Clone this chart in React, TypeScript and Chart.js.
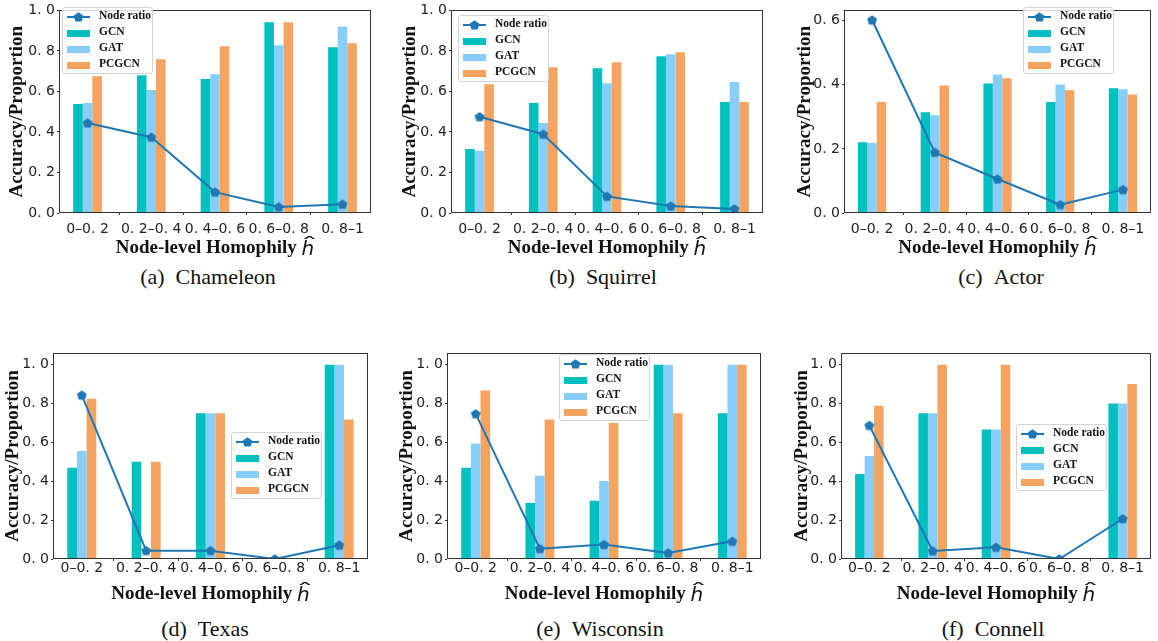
import React, { useEffect, useRef } from 'react';
import { Chart, registerables } from 'chart.js';

Chart.register(...registerables);

// ---------- data ----------
const CATEGORIES = ['0–0. 2', '0. 2–0. 4', '0. 4–0. 6', '0. 6–0. 8', '0. 8–1'];
const SERIES = ['Node ratio', 'GCN', 'GAT', 'PCGCN'];
const Y_TICKS_FULL = [0, 0.2, 0.4, 0.6, 0.8, 1.0];
const Y_TICKS_ACTOR = [0, 0.2, 0.4, 0.6];
const Y_TITLE = 'Accuracy/Proportion';
const X_TITLE = 'Node-level Homophily';

const CHAMELEON_RATIO = [0.444, 0.374, 0.103, 0.030, 0.043];
const CHAMELEON_GCN = [0.538, 0.680, 0.661, 0.941, 0.818];
const CHAMELEON_GAT = [0.543, 0.607, 0.685, 0.828, 0.921];
const CHAMELEON_PCGCN = [0.675, 0.759, 0.823, 0.941, 0.838];

const SQUIRREL_RATIO = [0.475, 0.389, 0.082, 0.034, 0.020];
const SQUIRREL_GCN = [0.316, 0.543, 0.715, 0.774, 0.548];
const SQUIRREL_GAT = [0.307, 0.444, 0.641, 0.784, 0.646];
const SQUIRREL_PCGCN = [0.636, 0.720, 0.744, 0.793, 0.548];

const ACTOR_RATIO = [0.602, 0.189, 0.106, 0.026, 0.073];
const ACTOR_GCN = [0.221, 0.314, 0.404, 0.346, 0.389];
const ACTOR_GAT = [0.218, 0.305, 0.432, 0.401, 0.386];
const ACTOR_PCGCN = [0.346, 0.398, 0.420, 0.383, 0.370];

const TEXAS_RATIO = [0.843, 0.043, 0.043, 0.0, 0.071];
const TEXAS_GCN = [0.470, 0.5, 0.75, 0, 1.0];
const TEXAS_GAT = [0.556, 0, 0.75, 0, 1.0];
const TEXAS_PCGCN = [0.824, 0.5, 0.75, 0, 0.718];

const WISCONSIN_RATIO = [0.747, 0.053, 0.074, 0.031, 0.091];
const WISCONSIN_GCN = [0.470, 0.289, 0.300, 1.0, 0.75];
const WISCONSIN_GAT = [0.594, 0.429, 0.401, 1.0, 1.0];
const WISCONSIN_PCGCN = [0.867, 0.718, 0.700, 0.75, 1.0];

const CONNELL_RATIO = [0.687, 0.041, 0.060, 0.0, 0.207];
const CONNELL_GCN = [0.437, 0.75, 0.667, 0, 0.8];
const CONNELL_GAT = [0.530, 0.75, 0.667, 0, 0.8];
const CONNELL_PCGCN = [0.788, 1.0, 1.0, 0, 0.9];

// ---------- styles ----------
const COLORS = ['#1f77b4', '#00bfbf', '#87cefa', '#f4a460'];
const TICK_FONT = 'DejaVu Sans';
const SERIF = 'Liberation Serif';

type Panel = {
  tag: string; name: string;
  ratio: number[]; gcn: number[]; gat: number[]; pcgcn: number[];
  yMax: number; yTicks: number[];
  cv: { left: number; top: number; width: number; height: number };
  area: { left: number; right: number; top: number; bottom: number };
  yTitleX: number; xTickPad: number; legend: { left: number; top: number };
  capX: number; capY: number;
};

const TOP = { top: 0, height: 262 };
const BOT = { top: 340, height: 265 };

const PANELS: Panel[] = [
  { tag: '(a)', name: 'Chameleon', ratio: CHAMELEON_RATIO, gcn: CHAMELEON_GCN, gat: CHAMELEON_GAT, pcgcn: CHAMELEON_PCGCN,
    yMax: 1.0, yTicks: Y_TICKS_FULL, cv: { left: 0, width: 385, ...TOP }, area: { left: 59, right: 371, top: 10, bottom: 213 },
    yTitleX: 17, xTickPad: 5.6, legend: { left: 62, top: 7 }, capX: 208, capY: 277 },
  { tag: '(b)', name: 'Squirrel', ratio: SQUIRREL_RATIO, gcn: SQUIRREL_GCN, gat: SQUIRREL_GAT, pcgcn: SQUIRREL_PCGCN,
    yMax: 1.0, yTicks: Y_TICKS_FULL, cv: { left: 385, width: 385, ...TOP }, area: { left: 451, right: 763, top: 10, bottom: 213 },
    yTitleX: 410, xTickPad: 5.6, legend: { left: 458, top: 15 }, capX: 603, capY: 277 },
  { tag: '(c)', name: 'Actor', ratio: ACTOR_RATIO, gcn: ACTOR_GCN, gat: ACTOR_GAT, pcgcn: ACTOR_PCGCN,
    yMax: 0.632, yTicks: Y_TICKS_ACTOR, cv: { left: 770, width: 388, ...TOP }, area: { left: 844, right: 1153, top: 10, bottom: 213 },
    yTitleX: 805, xTickPad: 5.6, legend: { left: 1023, top: 7 }, capX: 1001, capY: 277 },
  { tag: '(d)', name: 'Texas', ratio: TEXAS_RATIO, gcn: TEXAS_GCN, gat: TEXAS_GAT, pcgcn: TEXAS_PCGCN,
    yMax: 1.06, yTicks: Y_TICKS_FULL, cv: { left: 0, width: 385, ...BOT }, area: { left: 53, right: 368, top: 353, bottom: 559 },
    yTitleX: 13, xTickPad: -1, legend: { left: 231, top: 432 }, capX: 205, capY: 629 },
  { tag: '(e)', name: 'Wisconsin', ratio: WISCONSIN_RATIO, gcn: WISCONSIN_GCN, gat: WISCONSIN_GAT, pcgcn: WISCONSIN_PCGCN,
    yMax: 1.06, yTicks: Y_TICKS_FULL, cv: { left: 385, width: 385, ...BOT }, area: { left: 447, right: 761, top: 353, bottom: 559 },
    yTitleX: 407, xTickPad: -1, legend: { left: 559, top: 354 }, capX: 600, capY: 629 },
  { tag: '(f)', name: 'Connell', ratio: CONNELL_RATIO, gcn: CONNELL_GCN, gat: CONNELL_GAT, pcgcn: CONNELL_PCGCN,
    yMax: 1.06, yTicks: Y_TICKS_FULL, cv: { left: 770, width: 388, ...BOT }, area: { left: 841, right: 1153, top: 353, bottom: 559 },
    yTitleX: 802, xTickPad: -1, legend: { left: 1016, top: 424 }, capX: 993, capY: 629 },
];

function pentagonPoints(cx: number, cy: number, r: number): [number, number][] {
  const pts: [number, number][] = [];
  for (let k = 0; k < 5; k++) {
    const a = -Math.PI / 2 + (k * 2 * Math.PI) / 5;
    pts.push([cx + r * Math.cos(a), cy + r * Math.sin(a)]);
  }
  return pts;
}

function makeMarker(): HTMLCanvasElement {
  const c = document.createElement('canvas');
  c.width = 12; c.height = 12;
  const ctx = c.getContext('2d')!;
  const pts = pentagonPoints(6, 6.4, 5.2);
  ctx.beginPath();
  pts.forEach(([x, y], i) => (i ? ctx.lineTo(x, y) : ctx.moveTo(x, y)));
  ctx.closePath();
  ctx.fillStyle = COLORS[0];
  ctx.fill();
  return c;
}

const fmtY = (v: number) => v.toFixed(1).replace('.', '. ');

function PanelChart({ p }: { p: Panel }) {
  const ref = useRef<HTMLCanvasElement | null>(null);
  useEffect(() => {
    if (!ref.current) return;
    const marker = makeMarker();
    const xy = (arr: number[]) => arr.map((y, i) => ({ x: i, y }));
    const yW = p.area.left - p.cv.left;
    const padRight = p.cv.left + p.cv.width - p.area.right;
    const padTop = p.area.top - p.cv.top;
    const xH = p.cv.top + p.cv.height - p.area.bottom;
    const yTitleX = p.yTitleX - p.cv.left;

    const decor = {
      id: 'decor',
      afterDatasetsDraw(chart: any) {
        const { ctx, chartArea: a } = chart;
        ctx.save();
        ctx.strokeStyle = '#333';
        ctx.lineWidth = 1;
        ctx.strokeRect(Math.round(a.left) + 0.5, Math.round(a.top) + 0.5, Math.round(a.right - a.left) - 1, Math.round(a.bottom - a.top) - 1);
        ctx.restore();
      },
      afterDraw(chart: any) {
        const { ctx, chartArea: a } = chart;
        ctx.save();
        ctx.fillStyle = '#111';
        ctx.font = `bold 19px "${SERIF}"`;
        ctx.textAlign = 'center';
        ctx.textBaseline = 'middle';
        ctx.translate(yTitleX, (a.top + a.bottom) / 2);
        ctx.rotate(-Math.PI / 2);
        ctx.fillText(Y_TITLE, 0, 0);
        ctx.restore();

        ctx.save();
        ctx.fillStyle = '#111';
        const main = X_TITLE + ' ';
        ctx.font = `bold 19px "${SERIF}"`;
        const mw = ctx.measureText(main).width;
        ctx.font = `italic 20px "DejaVu Sans"`;
        const hw = ctx.measureText('h').width;
        const total = mw + hw;
        const cx = (a.left + a.right) / 2;
        const y = a.bottom + 35;
        let x = cx - total / 2;
        ctx.textAlign = 'left';
        ctx.textBaseline = 'middle';
        ctx.font = `bold 19px "${SERIF}"`;
        ctx.fillText(main, x, y);
        x += mw;
        ctx.textBaseline = 'alphabetic';
        const baseline = y + 6.5;
        ctx.font = `italic 20px "DejaVu Sans"`;
        ctx.fillText('h', x, baseline);
        ctx.save();
        ctx.translate(x + hw / 2 + 1.5, baseline - 6);
        ctx.scale(2.3, 1);
        ctx.font = `16px "DejaVu Sans"`;
        ctx.textAlign = 'center';
        ctx.fillText('ˆ', 0, 0);
        ctx.restore();
        ctx.restore();
      },
    };

    const chart = new Chart(ref.current, {
      type: 'bar',
      data: {
        datasets: [
          { type: 'line', label: SERIES[0], data: xy(p.ratio), borderColor: COLORS[0], backgroundColor: COLORS[0], borderWidth: 2,
            pointStyle: marker as any, pointRadius: 5, order: 0 } as any,
          { type: 'bar', label: SERIES[1], data: xy(p.gcn), backgroundColor: COLORS[1], borderWidth: 0, order: 1 },
          { type: 'bar', label: SERIES[2], data: xy(p.gat), backgroundColor: COLORS[2], borderWidth: 0, order: 1 },
          { type: 'bar', label: SERIES[3], data: xy(p.pcgcn), backgroundColor: COLORS[3], borderWidth: 0, order: 1 },
        ],
      },
      options: {
        animation: false,
        responsive: false,
        maintainAspectRatio: false,
        layout: { padding: { top: padTop, right: padRight, bottom: 0, left: 0 } },
        datasets: { bar: { categoryPercentage: 0.45, barPercentage: 1 } } as any,
        plugins: { legend: { display: false }, tooltip: { enabled: false }, title: { display: false } },
        scales: {
          x: {
            type: 'linear', min: -0.4475, max: 4.4475, offset: false,
            grid: { display: true, drawOnChartArea: false, drawTicks: true, tickLength: 2, color: '#333' },
            border: { display: false },
            ticks: { font: { family: TICK_FONT, size: 14 }, color: '#222', padding: p.xTickPad, maxRotation: 0, autoSkip: false,
              callback: (v: any) => CATEGORIES[Math.round(Number(v))] ?? '' },
            afterBuildTicks: (s: any) => { s.ticks = CATEGORIES.map((_, i) => ({ value: i })); },
            afterFit: (s: any) => { s.height = xH; },
          } as any,
          y: {
            type: 'linear', min: 0, max: p.yMax,
            grid: { display: true, drawOnChartArea: false, drawTicks: true, tickLength: 2, color: '#333' },
            border: { display: false },
            ticks: { font: { family: TICK_FONT, size: 14 }, color: '#222', padding: 2, callback: (v: any) => fmtY(Number(v)) },
            afterBuildTicks: (s: any) => { s.ticks = p.yTicks.map((v) => ({ value: v })); },
            afterFit: (s: any) => { s.width = yW; },
          } as any,
        },
      },
      plugins: [decor],
    });
    return () => chart.destroy();
  }, [p]);

  return (
    <canvas ref={ref} width={p.cv.width} height={p.cv.height}
      style={{ position: 'absolute', left: p.cv.left, top: p.cv.top, width: p.cv.width, height: p.cv.height }} />
  );
}

function LegendBox({ left, top }: { left: number; top: number }) {
  const pts = pentagonPoints(11.5, 6.4, 5.2).map(([x, y]) => `${x},${y}`).join(' ');
  return (
    <div style={{ position: 'absolute', left, top, width: 91, height: 67, boxSizing: 'border-box', border: '1px solid #d4d4d4',
      borderRadius: 3, background: 'rgba(255,255,255,0.8)' }}>
      {SERIES.map((name, i) => (
        <div key={name} style={{ position: 'absolute', left: 0, top: 9 + 16 * i - 8, height: 16, width: 89 }}>
          {i === 0 ? (
            <svg width={23} height={12} style={{ position: 'absolute', left: 4, top: 2 }}>
              <line x1={0} y1={6} x2={23} y2={6} stroke={COLORS[0]} strokeWidth={2} />
              <polygon points={pts} fill={COLORS[0]} />
            </svg>
          ) : (
            <div style={{ position: 'absolute', left: 4, top: 4.5, width: 23, height: 7, background: COLORS[i] }} />
          )}
          <div style={{ position: 'absolute', left: 36, top: 0, lineHeight: '16px', font: `bold 11.5px "${SERIF}"`, color: '#111', whiteSpace: 'nowrap' }}>
            {name}
          </div>
        </div>
      ))}
    </div>
  );
}

export default function App() {
  return (
    <div style={{ position: 'absolute', left: 0, top: 0, width: 1158, height: 641, background: '#fff', overflow: 'hidden' }}>
      {PANELS.map((p) => (
        <React.Fragment key={p.name}>
          <PanelChart p={p} />
          <LegendBox left={p.legend.left} top={p.legend.top} />
          <div style={{ position: 'absolute', left: p.capX - 120, top: p.capY - 13, width: 240, height: 26, lineHeight: '26px',
            textAlign: 'center', font: `22px "${SERIF}"`, color: '#111', whiteSpace: 'pre' }}>
            {p.tag + '\u2002' + p.name}
          </div>
        </React.Fragment>
      ))}
    </div>
  );
}
